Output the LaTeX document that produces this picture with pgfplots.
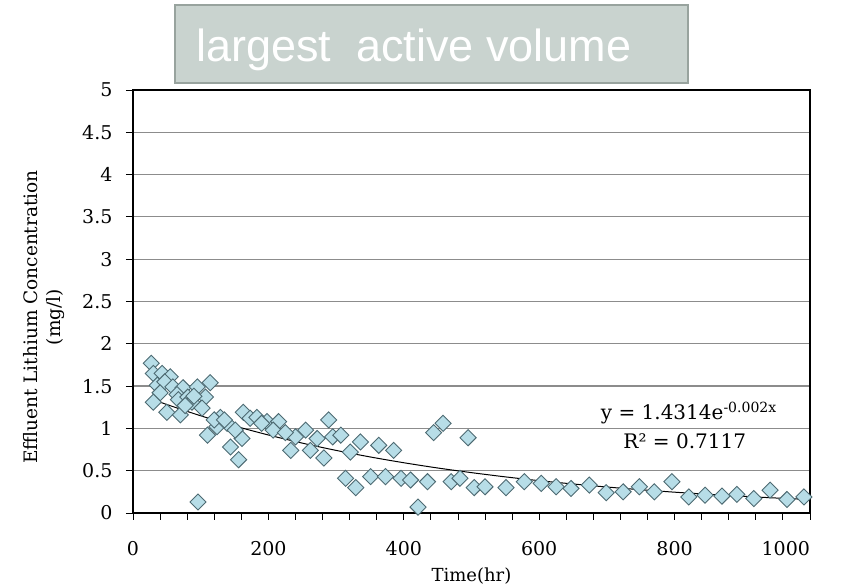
\documentclass[border=0pt]{standalone}
\usepackage{pgfplots}
\pgfplotsset{compat=1.18}
\usepackage{fontspec}
\setmainfont{DejaVu Serif}
\newfontfamily\titlefont{Liberation Sans}
\definecolor{ptfill}{HTML}{B7DDE7}
\definecolor{ptedge}{HTML}{4D6A72}
\definecolor{boxfill}{HTML}{C9D3CF}
\definecolor{boxedge}{HTML}{98A39E}
\definecolor{gridc}{HTML}{8C8C8C}

\pgfplotstableread{
t c
27 1.77
30 1.65
43 1.65
55 1.61
36 1.51
47 1.55
59 1.49
74 1.48
95 1.49
114 1.54
40 1.42
65 1.40
67 1.34
81 1.37
107 1.37
30 1.31
50 1.19
70 1.16
87 1.31
102 1.24
110 0.92
129 1.13
124 1.02
139 1.06
144 0.78
156 0.63
161 0.88
151 0.98
163 1.19
173 1.12
183 1.13
198 1.08
215 1.08
207 0.98
233 0.74
240 0.90
255 0.98
262 0.74
96 0.13
90 1.38
120 1.10
77 1.27
135 1.10
190 1.06
225 0.95
272 0.88
282 0.65
289 1.10
295 0.90
307 0.92
321 0.72
336 0.84
363 0.80
385 0.74
314 0.41
329 0.30
351 0.43
373 0.43
396 0.41
410 0.39
435 0.37
421 0.07
444 0.95
458 1.06
495 0.89
470 0.37
483 0.41
504 0.30
520 0.31
551 0.30
578 0.37
603 0.35
625 0.31
647 0.29
674 0.33
699 0.24
724 0.25
748 0.31
770 0.25
796 0.37
821 0.19
845 0.21
870 0.20
892 0.22
917 0.17
941 0.27
966 0.16
991 0.19
}\lithium

\begin{document}
\begin{tikzpicture}[x=1pt,y=1pt]
\useasboundingbox (0,0) rectangle (847,585);
% title box
\draw[boxedge, line width=1.8pt, fill=boxfill] (175,502) rectangle (688,580);
\node[anchor=west, text=white, font=\titlefont\fontsize{45}{50}\selectfont, inner sep=0pt]
  at (196,535) {largest\ \ active volume};
\begin{axis}[
  at={(133pt,72pt)}, anchor=south west,
  scale only axis, width=677pt, height=423pt,
  xmin=0, xmax=1000, ymin=0, ymax=5,
  xtick={0,200,...,1000}, minor x tick num=4,
  xticklabels={0,200,400,600,800,\makebox[0pt][r]{1000}\hspace{22pt}},
  ytick={0,0.5,...,5},
  yticklabels={0,0.5,1,1.5,2,2.5,3,3.5,4,4.5,5},
  xtick pos=bottom, ytick pos=left,
  tick align=outside, major tick length=7pt, minor tick length=7pt,
  tick style={black, line width=0.9pt},
  ymajorgrids, grid style={gridc, line width=1.2pt},
  axis line style={black, line width=1.1pt},
  tick label style={font=\fontsize{19}{22}\selectfont},
  xticklabel style={yshift=-18pt},
  yticklabel style={xshift=-10pt},
  xlabel={Time(hr)},
  ylabel={Effluent Lithium Concentration\\(mg/l)},
  every axis x label/.style={at={(axis description cs:0.5,-0.149)}, anchor=center,
    font=\fontsize{18}{21}\selectfont},
  every axis y label/.style={at={(axis description cs:-0.132,0.463)}, anchor=center,
    rotate=90, align=center, font=\fontsize{18.5}{23}\selectfont},
  clip=false,
]
\addplot[only marks, mark=square*, mark size=5.7pt,
  mark options={rotate=45, fill=ptfill, draw=ptedge, line width=0.9pt}]
  table[x=t, y=c] {\lithium};
\addplot[black, line width=1pt, smooth] coordinates {
  (27,1.349) (50,1.282) (100,1.149) (150,1.029) (200,0.922) (250,0.826)
  (300,0.740) (350,0.663) (400,0.594) (450,0.532) (500,0.477) (550,0.427)
  (600,0.382) (650,0.343) (700,0.307) (750,0.275) (800,0.246) (850,0.221)
  (900,0.198) (950,0.177) (991,0.162)};
\node[anchor=center, font=\fontsize{20}{23}\selectfont] at (axis cs:821,1.18)
  {y = 1.4314e\textsuperscript{-0.002x}};
\node[anchor=center, font=\fontsize{20}{23}\selectfont] at (axis cs:815,0.85)
  {R² = 0.7117};
\end{axis}
\end{tikzpicture}
\end{document}
